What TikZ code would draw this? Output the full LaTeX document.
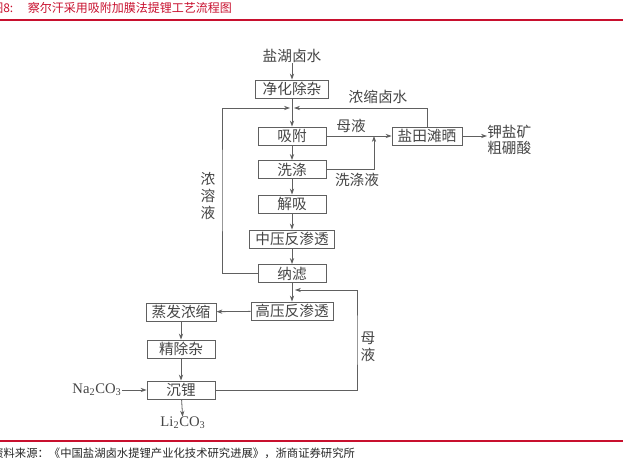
\documentclass[tikz,border=0pt]{standalone}
\usepackage{fontspec}
\setmainfont{Liberation Serif}
\newfontfamily\cjk{Noto Sans CJK SC}
\usetikzlibrary{arrows.meta}
\definecolor{ln}{HTML}{606060}
\definecolor{tx}{HTML}{454545}
\definecolor{rd}{HTML}{C8102E}
\begin{document}
\begin{tikzpicture}[x=0.75pt,y=-0.75pt,
  every node/.style={inner sep=0pt, text=tx},
  lbl/.style={font=\cjk\fontsize{11}{12.5}\selectfont, align=center},
  box/.style={draw=ln, line width=0.6pt, minimum height=13.5pt, font=\cjk\fontsize{11}{12}\selectfont},
  w68/.style={box, minimum width=51pt},
  w70/.style={box, minimum width=52.5pt},
  w73/.style={box, minimum width=54.75pt},
  w82/.style={box, minimum width=61.5pt},
  w85/.style={box, minimum width=63.75pt},
  arr/.style={draw=ln, line width=0.6pt, -{Stealth[length=4.5pt,width=3.2pt]}},
  rule/.style={draw=rd, line width=0.9pt}]
\useasboundingbox (0,0) rectangle (623,466);
% header / footer
\node[anchor=west, text=rd, font=\cjk\fontsize{9}{10}\selectfont] (title) at (-9,8) {图8:\hspace{11pt}察尔汗采用吸附加膜法提锂工艺流程图};
\draw[rule] (0,20) -- (623,20);
\draw[rule] (0,441) -- (623,441);
\node[anchor=west, text=black!85, font=\cjk\fontsize{8.5}{10}\selectfont] (foot) at (-8,453) {资料来源：《中国盐湖卤水提锂产业化技术研究进展》，浙商证券研究所};
% main column
\node[lbl] (src) at (292,56) {盐湖卤水};
\node[w73] (b1) at (292,89) {净化除杂};
\node[w68] (b2) at (292,136) {吸附};
\node[w68] (b3) at (292,169.5) {洗涤};
\node[w68] (b4) at (292,204) {解吸};
\node[w85] (b5) at (292,239) {中压反渗透};
\node[w68] (b6) at (292,273.5) {纳滤};
\node[w82] (b7) at (292,311) {高压反渗透};
% left column
\node[w70] (b8) at (181,312) {蒸发浓缩};
\node[w68] (b9) at (181,349) {精除杂};
\node[w68] (b10) at (181,390) {沉锂};
\node[font=\fontsize{11}{12}\selectfont] (na) at (97,390) {Na\textsubscript{2}CO\textsubscript{3}};
\node[font=\fontsize{11}{12}\selectfont] (li) at (183,423) {Li\textsubscript{2}CO\textsubscript{3}};
% right side
\node[w70] (salt) at (427,136) {盐田滩晒};
\node[lbl, anchor=west] (prod) at (487,140) {钾盐矿\\粗硼酸};
% labels
\node[lbl] (l1) at (351,126) {母液};
\node[lbl] (l2) at (357,180) {洗涤液};
\node[lbl] (l3) at (378,97) {浓缩卤水};
\node[lbl] (l4) at (208,196) {浓\\溶\\液};
\node[lbl] (l5) at (368,347) {母\\液};
% coordinates
\coordinate (jL) at (290,108);
\coordinate (jR) at (294,108);
\coordinate (cL) at (222,190);
\coordinate (jW) at (374,136);
\coordinate (jB) at (295,290);
\coordinate (cB) at (357,340);
% connectors
\draw[arr] (src) -- (b1);
\draw[arr] (b1) -- (b2);
\draw[arr] (b2) -- (b3);
\draw[arr] (b3) -- (b4);
\draw[arr] (b4) -- (b5);
\draw[arr] (b5) -- (b6);
\draw[arr] (b6) -- (b7);
\draw[arr] (b7) -- (b8);
\draw[arr] (b8) -- (b9);
\draw[arr] (b9) -- (b10);
\draw[arr] (na) -- (b10);
\draw[arr] (b10) -- (li);
\draw[arr] (b2.east) -- (salt.west);
\draw[arr] (b3.east) -| (jW);
\draw[arr] (salt.east) -- (prod.west |- salt.east);
\draw[arr] (salt.north) |- (jR);
\draw[arr] (b6.west) -| (cL) |- (jL);
\draw[arr] (b10.east) -| (cB) |- (jB);
\end{tikzpicture}
\end{document}
